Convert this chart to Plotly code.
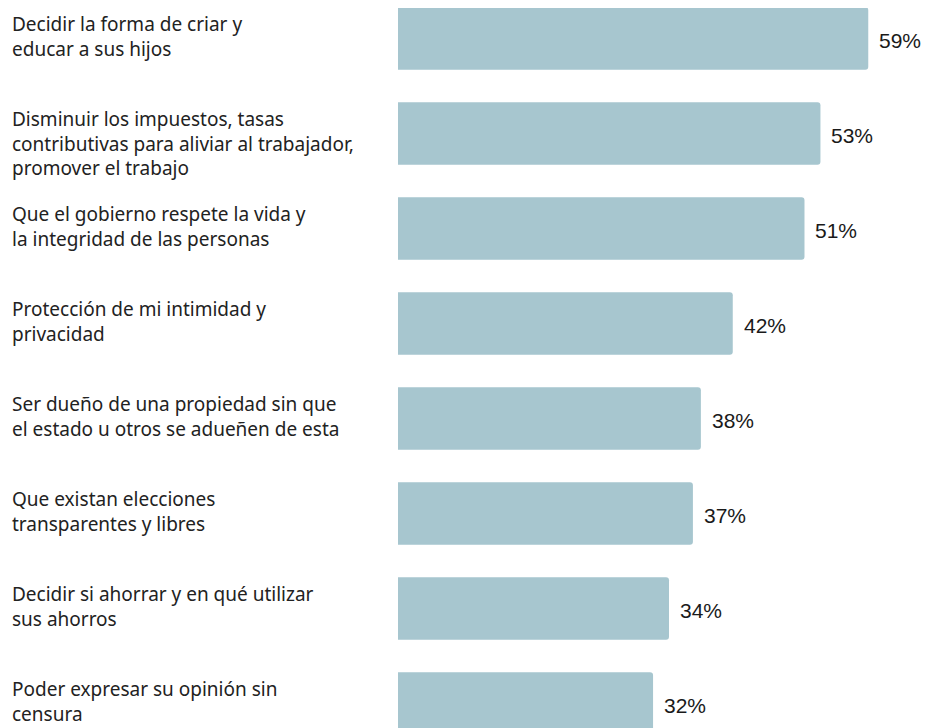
import plotly.graph_objects as go

# datos
etiquetas = [
    "Decidir la forma de criar y<br>educar a sus hijos",
    "Disminuir los impuestos, tasas<br>contributivas para aliviar al trabajador,<br>promover el trabajo",
    "Que el gobierno respete la vida y<br>la integridad de las personas",
    "Protección de mi intimidad y<br>privacidad",
    "Ser dueño de una propiedad sin que<br>el estado u otros se adueñen de esta",
    "Que existan elecciones<br>transparentes y libres",
    "Decidir si ahorrar y en qué utilizar<br>sus ahorros",
    "Poder expresar su opinión sin<br>censura",
]
valores = [59, 53, 51, 42, 38, 37, 34, 32]

COLOR_BARRA = "#a7c6cf"
FUENTE_ETIQ = "Noto Sans, Lato, sans-serif"
FUENTE_VAL = "Liberation Sans, Arial, sans-serif"

# la página deja 8px de margen, así que el lienzo es 930x720
ANCHO, ALTO = 930, 720

pos = list(range(len(valores)))

fig = go.Figure()
fig.add_trace(go.Bar(
    x=valores, y=pos, orientation="h",
    marker=dict(color=COLOR_BARRA, line=dict(width=0)),
    width=0.66,
    hoverinfo="skip",
))

# etiquetas de categoría (alineadas a la izquierda)
for i, txt in zip(pos, etiquetas):
    fig.add_annotation(
        x=2 / ANCHO, xref="paper", y=i, yref="y",
        text=txt, showarrow=False,
        xanchor="left", yanchor="top", align="left", yshift=29,
        font=dict(family=FUENTE_ETIQ, size=19, color="#222222"),
    )

# valores al final de cada barra
for i, v in zip(pos, valores):
    fig.add_annotation(
        x=v, xref="x", y=i, yref="y",
        text=f"{v}%", showarrow=False,
        xanchor="left", yanchor="middle", xshift=9, yshift=-2,
        font=dict(family=FUENTE_VAL, size=21, color="#1a1a1a"),
    )

fig.update_layout(
    width=ANCHO, height=ALTO,
    margin=dict(l=0, r=0, t=0, b=0),
    paper_bgcolor="white", plot_bgcolor="white",
    showlegend=False,
    barcornerradius=3,
    xaxis=dict(domain=[390 / ANCHO, 1], range=[0, 67.75], visible=False, fixedrange=True),
    yaxis=dict(range=[7.258, -0.321], visible=False, fixedrange=True),
)

fig.write_html("out.html")
